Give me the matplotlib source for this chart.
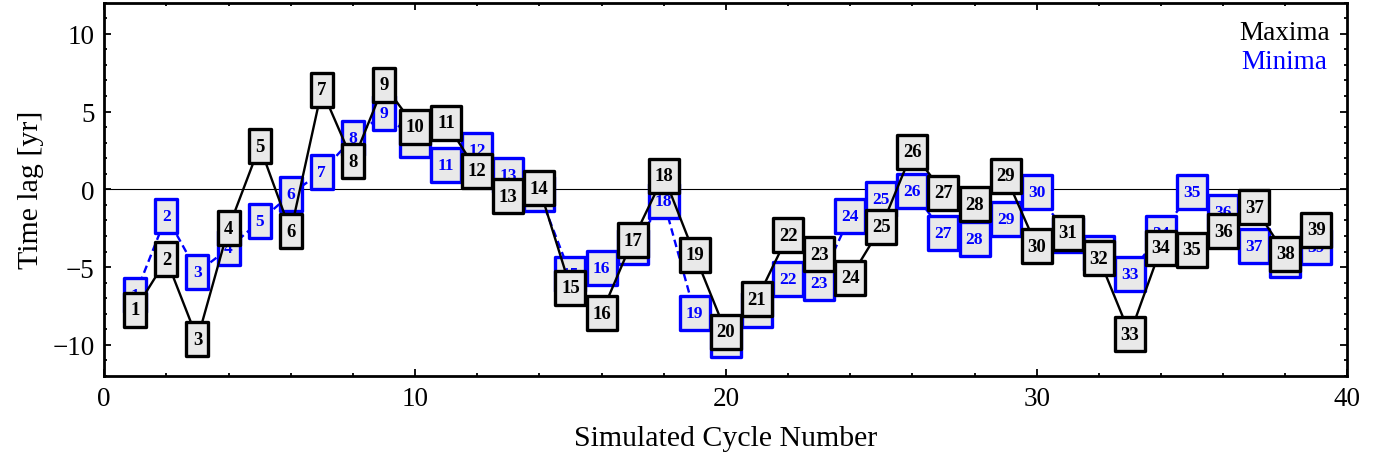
import matplotlib
matplotlib.use('Agg')
import matplotlib.pyplot as plt
from matplotlib.path import Path
from matplotlib.ticker import MultipleLocator

plt.rcParams['font.family'] = ['Liberation Serif', 'DejaVu Serif']

# cycle numbers and time lags
cycles = list(range(1, 40))
maxima = [-7.73, -4.51, -9.63, -2.49, 2.78, -2.71, 6.40, 1.79, 6.72, 4.03,
          4.28, 1.18, -0.46, 0.08, -6.33, -7.97, -3.28, 0.87, -4.22, -9.16,
          -7.07, -2.96, -4.18, -5.70, -2.42, 2.43, -0.21, -0.96, 0.87, -3.66,
          -2.80, -4.42, -9.31, -3.77, -3.89, -2.71, -1.14, -4.14, -2.61]
minima = [-6.78, -1.72, -5.34, -3.80, -2.05, -0.32, 1.13, 3.30, 4.89, 3.15,
          1.54, 2.55, 0.94, -0.28, -5.47, -5.06, -3.69, -0.75, -7.97, -9.71,
          -7.76, -5.74, -6.05, -1.72, -0.64, -0.09, -2.79, -3.18, -1.89, -0.16,
          -2.95, -4.08, -5.45, -2.79, -0.15, -1.46, -3.63, -4.55, -3.71]

box_fill = '#e9e9e9'
blue = '#0000ff'


def box_marker(label):
    # rectangle marker, narrower for one-digit labels
    w = 10.5 if len(label) == 1 else 14.8
    h = 16.5
    return Path([(-w, -h), (w, -h), (w, h), (-w, h), (-w, -h)],
                [Path.MOVETO, Path.LINETO, Path.LINETO, Path.LINETO, Path.CLOSEPOLY])


fig = plt.figure(figsize=(13.88, 4.64), dpi=100)
ax = fig.add_axes([0.0751, 0.1877, 0.8957, 0.8043])

ax.axhline(0, color='black', lw=0.8, zorder=0.5)

# minima: dashed blue line, then boxes
ax.plot(cycles, minima, color=blue, lw=1.7, dashes=(3.2, 1.8), zorder=1)
for i, (n, v) in enumerate(zip(cycles, minima)):
    z = 2 + i * 0.01
    ax.plot([n], [v], marker=box_marker(str(n)), ms=23.8, mfc=box_fill,
            mec=blue, mew=2.4, ls='none', zorder=z)
    ax.text(n, v, str(n), color=blue, fontsize=12.5, fontweight='bold',
            ha='center', va='center', zorder=z + 0.005)

# maxima: solid black line, then boxes
ax.plot(cycles, maxima, color='black', lw=1.7, zorder=3)
for i, (n, v) in enumerate(zip(cycles, maxima)):
    z = 4 + i * 0.01
    ax.plot([n], [v], marker=box_marker(str(n)), ms=23.8, mfc=box_fill,
            mec='black', mew=2.4, ls='none', zorder=z)
    ax.text(n, v, str(n), color='black', fontsize=13.5, fontweight='bold',
            ha='center', va='center', zorder=z + 0.005)

ax.set_xlim(0, 40)
ax.set_ylim(-12, 12)
ax.xaxis.set_major_locator(MultipleLocator(10))
ax.xaxis.set_minor_locator(MultipleLocator(2))
ax.yaxis.set_major_locator(MultipleLocator(5))
ax.yaxis.set_minor_locator(MultipleLocator(1))
ax.tick_params(which='both', direction='in', top=True, right=True,
               labelsize=19.5, width=1.3)
ax.tick_params(which='major', length=5, pad=7)
ax.tick_params(which='minor', length=2.5)
for s in ax.spines.values():
    s.set_linewidth(2)

ax.set_xlabel('Simulated Cycle Number', fontsize=21.5, labelpad=10)
ax.set_ylabel('Time lag [yr]', fontsize=21.5, labelpad=6)

ax.text(0.986, 0.903, 'Maxima', color='black', fontsize=19.5,
        ha='right', va='baseline', transform=ax.transAxes)
ax.text(0.984, 0.825, 'Minima', color=blue, fontsize=19.5,
        ha='right', va='baseline', transform=ax.transAxes)

fig.savefig('out.png', dpi=100)
